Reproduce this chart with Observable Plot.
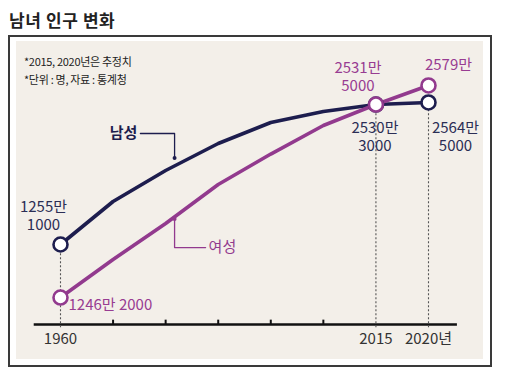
<!DOCTYPE html>
<html>
<head>
<meta charset="utf-8">
<script src="https://cdn.jsdelivr.net/npm/d3@7"></script>
<script src="https://cdn.jsdelivr.net/npm/@observablehq/plot@0.6"></script>
<style>
  html, body { margin: 0; padding: 0; background: #fff; }
  #page { position: relative; width: 505px; height: 380px; overflow: hidden; }
  #title { position: absolute; left: 9px; top: 9px; font-family: "Noto Sans CJK KR", sans-serif; font-weight: 700; font-size: 17px; line-height: 22px; color: #222; letter-spacing: 0.6px; }
  #frame { position: absolute; left: 8px; top: 35px; width: 484px; height: 332px; box-sizing: border-box; border: 2px solid #3a3a3a; background: #fff; }
  #inner { position: absolute; left: 16px; top: 41px; width: 467px; height: 318px; background: #f3efe9; }
  #chart { position: absolute; left: 0; top: 0; }
  .note { position: absolute; left: 8px; font-family: "Noto Sans CJK KR", sans-serif; font-size: 11px; color: #222; letter-spacing: -0.3px; }
</style>
</head>
<body>
<div id="page">
  <div id="title">남녀 인구 변화</div>
  <div id="frame"></div>
  <div id="inner">
    <div id="chart"></div>
    <div class="note" id="note1" style="top:12px">*2015, 2020년은 추정치</div>
    <div class="note" id="note2" style="top:30px">*단위 : 명, 자료 : 통계청</div>
  </div>
</div>
<script>
// ---- data (values in 만 명, read from the drawn positions of the schematic chart) ----
const years = ["1960", "1970", "1980", "1990", "2000", "2010", "2015", "2020"];
const maleValues   = [1235, 1630, 1915, 2163, 2356, 2457, 2521, 2540];
const femaleValues = [748, 1097, 1428, 1786, 2066, 2328, 2521, 2696];
const tickLabels = ["1960", "", "", "", "", "", "2015", "2020년"];
const markedYears = ["1960", "2015", "2020"];
const maleLabels   = ["1255만\n1000", "2530만\n3000", "2564만\n5000"];
const femaleLabels = ["1246만 2000", "2531만\n5000", "2579만"];
const seriesNames = ["남성", "여성"];

// ---- styling / layout ----
const MALE = "#1d1d4e", FEMALE = "#923a8e";
const MALE_TXT = "#2b2e55", FEMALE_TXT = "#983c92";
const FONT = "'Noto Sans CJK KR', sans-serif";
const idx = yr => years.indexOf(yr);

const maleRows = years.map((yr, i) => ({i, yr, v: maleValues[i]}));
const femaleRows = years.map((yr, i) => ({i, yr, v: femaleValues[i]}));
const maleMarked = maleRows.filter(d => markedYears.includes(d.yr));
const femaleMarked = femaleRows.filter(d => markedYears.includes(d.yr));
const base = 500;

const maleLabelRows = markedYears.map((yr, k) => ({i: idx(yr), v: maleValues[idx(yr)], text: maleLabels[k]}));
const femaleLabelRows = markedYears.map((yr, k) => ({i: idx(yr), v: femaleValues[idx(yr)], text: femaleLabels[k]}));
// label offsets (layout)
const maleOff = [[-17, -29, "middle"], [-1, 32, "middle"], [27, 34, "middle"]];
const femaleOff = [[8, 7, "start"], [-18, -28, "middle"], [20, -21, "middle"]];

const tickRows = tickLabels.map((t, i) => ({i, t})).filter(d => d.t !== "");
const minorTicks = tickLabels.map((t, i) => ({i, t})).filter(d => d.t === "");

// leader annotations (data-space anchor points)
const leaderMale = [{x: 1.52, y: 2255}, {x: 2.17, y: 2255}, {x: 2.17, y: 2030}];
const leaderFemale = [{x: 2.17, y: 1470}, {x: 2.17, y: 1207}, {x: 2.76, y: 1207}];

const marks = [
  Plot.ruleY([base], {x1: -0.5, x2: 7.55, stroke: "#111", strokeWidth: 2.5}),
  Plot.ruleX(minorTicks, {x: "i", y1: base, y2: base + 40, stroke: "#111", strokeWidth: 2}),
  Plot.ruleX(maleMarked, {x: "i", y1: base - 30, y2: "v", stroke: "#555", strokeWidth: 1.1, strokeDasharray: "2,2"}),
  Plot.text(tickRows, {x: "i", y: base, text: "t", dy: 15, fill: "#333", fontSize: 15, fontFamily: FONT, lineAnchor: "middle", letterSpacing: -0.3}),
  Plot.line(leaderMale, {x: "x", y: "y", stroke: MALE, strokeWidth: 1.3}),
  Plot.dot([leaderMale[2]], {x: "x", y: "y", r: 2, fill: MALE}),
  Plot.line(leaderFemale, {x: "x", y: "y", stroke: FEMALE, strokeWidth: 1.3}),
  Plot.dot([leaderFemale[0]], {x: "x", y: "y", r: 2, fill: FEMALE}),
  Plot.text([{x: leaderMale[0].x, y: leaderMale[0].y, t: seriesNames[0]}], {x: "x", y: "y", text: "t", dx: -3, textAnchor: "end", fill: MALE, fontWeight: 700, fontSize: 15, fontFamily: FONT}),
  Plot.text([{x: leaderFemale[2].x, y: leaderFemale[2].y, t: seriesNames[1]}], {x: "x", y: "y", text: "t", dx: 3, textAnchor: "start", fill: FEMALE, fontSize: 15, fontFamily: FONT}),
  Plot.line(maleRows, {x: "i", y: "v", stroke: MALE, strokeWidth: 3.6, strokeLinejoin: "round"}),
  Plot.line(femaleRows, {x: "i", y: "v", stroke: FEMALE, strokeWidth: 3.6, strokeLinejoin: "round"}),
  Plot.dot(maleMarked, {x: "i", y: "v", r: 7, fill: "#fff", stroke: MALE, strokeWidth: 2.6}),
  Plot.dot(femaleMarked, {x: "i", y: "v", r: 7, fill: "#fff", stroke: FEMALE, strokeWidth: 2.6}),
];
maleLabelRows.forEach((d, k) => marks.push(Plot.text([d], {x: "i", y: "v", text: "text", dx: maleOff[k][0], dy: maleOff[k][1], textAnchor: maleOff[k][2], fill: MALE_TXT, fontSize: 15, lineHeight: 1.15, fontFamily: FONT, lineAnchor: "middle"})));
femaleLabelRows.forEach((d, k) => marks.push(Plot.text([d], {x: "i", y: "v", text: "text", dx: femaleOff[k][0], dy: femaleOff[k][1], textAnchor: femaleOff[k][2], fill: FEMALE_TXT, fontSize: 15, lineHeight: 1.15, fontFamily: FONT, lineAnchor: "middle"})));

const chart = Plot.plot({
  width: 467,
  height: 318,
  margin: 0,
  style: {background: "transparent", overflow: "visible"},
  x: {type: "linear", domain: [0, 7], range: [44, 412], axis: null},
  y: {type: "linear", domain: [500, 3100], range: [283, 0], axis: null},
  marks
});
document.getElementById("chart").appendChild(chart);
</script>
</body>
</html>
